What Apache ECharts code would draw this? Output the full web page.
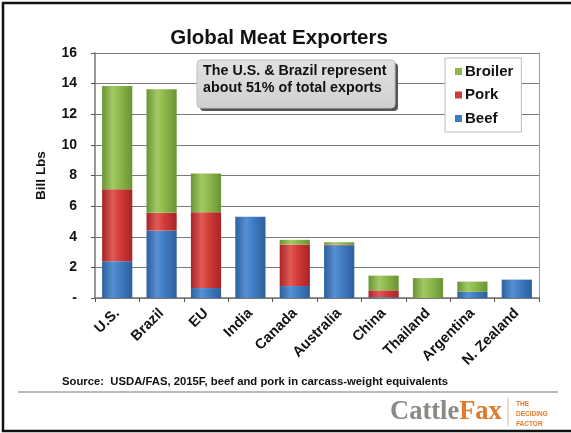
<!DOCTYPE html>
<html>
<head>
<meta charset="utf-8">
<script src="https://cdn.jsdelivr.net/npm/echarts@6/dist/echarts.min.js"></script>
<style>
  html, body { margin: 0; padding: 0; background: #fff; }
  #chart { width: 571px; height: 433px; }
</style>
</head>
<body>
<div id="chart"></div>
<script>
// Meat exports by country, billion pounds (carcass-weight equivalents)
const countries = ['U.S.', 'Brazil', 'EU', 'India', 'Canada', 'Australia', 'China', 'Thailand', 'Argentina', 'N. Zealand'];
const beef    = [2.4, 4.4, 0.65, 5.3, 0.78, 3.44, 0.05, 0, 0.4, 1.2];
const pork    = [4.7, 1.16, 4.95, 0, 2.72, 0.05, 0.45, 0, 0, 0];
const broiler = [6.74, 8.08, 2.53, 0, 0.3, 0.15, 0.96, 1.3, 0.67, 0];
const yTicks = [0, 2, 4, 6, 8, 10, 12, 14, 16];

const FONT = '"Liberation Sans", Arial, sans-serif';
const SERIF = '"Liberation Serif", "Times New Roman", serif';

function barFill(dark, mid, light) {
  return {
    type: 'linear', x: 0, y: 0, x2: 1, y2: 0,
    colorStops: [
      { offset: 0, color: dark },
      { offset: 0.35, color: light },
      { offset: 0.6, color: mid },
      { offset: 1, color: dark }
    ]
  };
}

const blueFill  = barFill('#2d5f9c', '#3f7cc2', '#5590d2');
const redFill   = barFill('#a82426', '#d23a38', '#e05a56');
const greenFill = barFill('#6a9334', '#8cb84a', '#a3c965');

function series(name, data, fill) {
  return {
    name: name,
    type: 'bar',
    stack: 'total',
    barWidth: '68%',
    data: data,
    itemStyle: { color: fill },
    emphasis: { disabled: true }
  };
}

const chart = echarts.init(document.getElementById('chart'), null, { renderer: 'canvas' });

chart.setOption({
  animation: false,
  backgroundColor: '#fff',
  title: {
    text: 'Global Meat Exporters',
    left: 274, top: 23, textAlign: 'center',
    textStyle: { fontFamily: FONT, fontSize: 20.5, fontWeight: 'bold', color: '#111' }
  },
  legend: {
    data: [
      { name: 'Broiler', itemStyle: { color: '#8cb84a' } },
      { name: 'Pork', itemStyle: { color: '#d23a38' } },
      { name: 'Beef', itemStyle: { color: '#3f7cc2' } }
    ],
    orient: 'vertical',
    left: 445, top: 58,
    itemWidth: 7, itemHeight: 7, itemGap: 8.5,
    icon: 'rect',
    textStyle: { fontFamily: FONT, fontSize: 15, fontWeight: 'bold', color: '#111', padding: [0, 0, 0, -2] },
    backgroundColor: '#fff',
    borderColor: '#bbb', borderWidth: 1,
    padding: [6, 8, 6, 10]
  },
  grid: { left: 95, right: 32, top: 53, bottom: 135 },
  xAxis: {
    type: 'category',
    data: countries,
    axisLine: { lineStyle: { color: '#777', width: 1.5 } },
    axisTick: { show: true, alignWithLabel: false, length: 4, inside: false, lineStyle: { color: '#555' } },
    axisLabel: {
      rotate: 45, interval: 0, margin: 13,
      fontFamily: FONT, fontSize: 14.5, fontWeight: 'bold', color: '#111'
    }
  },
  yAxis: [{
    type: 'value',
    min: 0, max: 16, interval: 2,
    name: 'Bill Lbs',
    nameLocation: 'middle', nameGap: 47, nameRotate: 90,
    nameTextStyle: { fontFamily: FONT, fontSize: 13.5, fontWeight: 'bold', color: '#111' },
    axisLine: { show: true, lineStyle: { color: '#777', width: 1.5 } },
    axisTick: { show: true, length: 4, lineStyle: { color: '#555' } },
    axisLabel: {
      margin: 18,
      fontFamily: FONT, fontSize: 14, fontWeight: 'bold', color: '#111',
      formatter: function (v) { return yTicks.indexOf(v) === 0 ? '-' : String(v); }
    },
    splitLine: { show: true, lineStyle: { color: '#7a7a7a', width: 1 } }
  }, {
    type: 'value', min: 0, max: 16, interval: 2, position: 'right',
    axisLine: { show: true, lineStyle: { color: '#999', width: 1 } },
    axisTick: { show: false }, axisLabel: { show: false }, splitLine: { show: false }
  }],
  series: [
    series('Beef', beef, blueFill),
    series('Pork', pork, redFill),
    series('Broiler', broiler, greenFill)
  ],
  graphic: [
    // outer frame
    { type: 'rect', shape: { x: 3, y: 3, width: 570, height: 428 }, style: { fill: 'none', stroke: '#111', lineWidth: 2.5 }, silent: true },
    // callout box with drop shadow
    { type: 'rect', shape: { x: 200, y: 63, width: 198, height: 48, r: 4 }, style: { fill: '#555' }, z: 10 },
    { type: 'rect', shape: { x: 197, y: 60, width: 198, height: 48, r: 4 },
      style: { fill: { type: 'linear', x: 0, y: 0, x2: 0, y2: 1, colorStops: [{ offset: 0, color: '#e2e2e2' }, { offset: 1, color: '#cfcfcf' }] }, stroke: '#bdbdbd', lineWidth: 1 }, z: 11 },
    { type: 'text', left: 203, top: 63, z: 12,
      style: { text: 'The U.S. & Brazil represent\nabout 51% of total exports', fontFamily: FONT, fontSize: 14.3, fontWeight: 'bold', fill: '#111', lineHeight: 17 } },
    // source note and rule
    { type: 'text', left: 62, top: 376,
      style: { text: 'Source:  USDA/FAS, 2015F, beef and pork in carcass-weight equivalents', fontFamily: FONT, fontSize: 11.3, fontWeight: 'bold', fill: '#111' } },
    { type: 'line', shape: { x1: 18, y1: 392, x2: 558, y2: 392 }, style: { stroke: '#777', lineWidth: 1 } },
    // logo
    { type: 'text', left: 390, top: 399,
      style: { rich: { a: { fontFamily: SERIF, fontSize: 26.5, fontWeight: 'bold', fill: '#8a8a86' },
                       b: { fontFamily: SERIF, fontSize: 26.5, fontWeight: 'bold', fill: '#e07a2a' } },
               text: '{a|Cattle}{b|Fax}' } },
    { type: 'line', shape: { x1: 508, y1: 398, x2: 508, y2: 426 }, style: { stroke: '#e8b58a', lineWidth: 1 } },
    { type: 'text', left: 516, top: 399,
      style: { text: 'THE\nDECIDING\nFACTOR', fontFamily: FONT, fontSize: 6.5, fontWeight: 'bold', fill: '#e07a2a', lineHeight: 10 } }
  ]
});
</script>
</body>
</html>
